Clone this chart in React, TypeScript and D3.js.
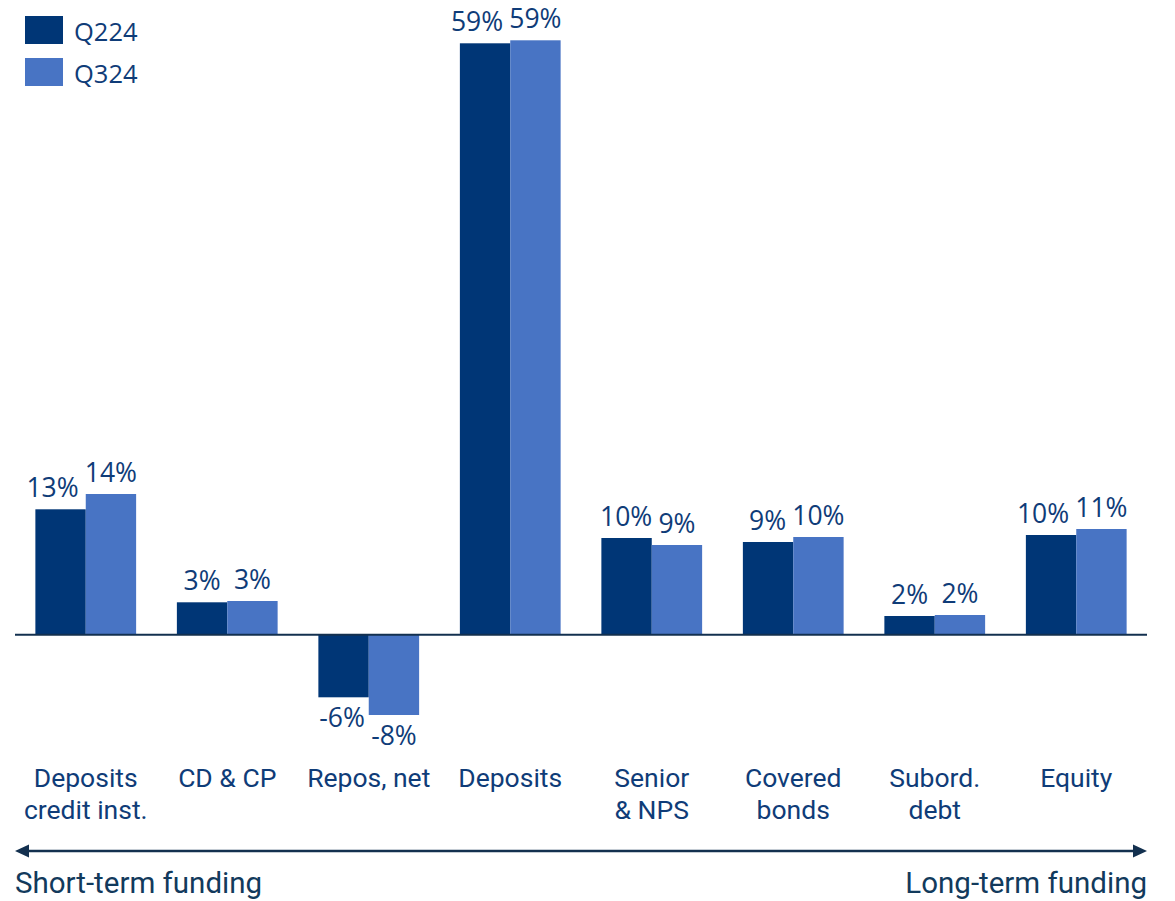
import React from "react";
import * as d3 from "d3";

const categories: string[][] = [
  ["Deposits", "credit inst."],
  ["CD & CP"],
  ["Repos, net"],
  ["Deposits"],
  ["Senior", "& NPS"],
  ["Covered", "bonds"],
  ["Subord.", "debt"],
  ["Equity"],
];
const seriesNames = ["Q224", "Q324"];
const q224 = [12.55, 3.25, -6.25, 59.15, 9.68, 9.28, 1.88, 9.98];
const q324 = [14.08, 3.38, -8.02, 59.45, 8.98, 9.78, 1.98, 10.58];
const colors = ["#003676", "#4874c4"];
const axisLabels = ["Short-term funding", "Long-term funding"];

const W = 1175;
const H = 901;
const textColor = "#0f3c78";
const darkLine = "#13304f";
const valueFont = "'Open Sans', sans-serif";
const catFont = "Roboto, sans-serif";
const valueSize = 26.5;

const fmt = (v: number) => `${Math.round(v) < 0 ? "-" : ""}${Math.abs(Math.round(v))}%`;
const estWidth = (s: string) =>
  s.split("").reduce((acc, c) => acc + (c === "%" ? 0.834 : c === "-" ? 0.322 : 0.572), 0) * valueSize;

export default function App() {
  const idx = categories.map((_, i) => String(i));
  const x0 = d3.scaleBand<string>().domain(idx).range([15, 1147]).paddingInner(0.288).paddingOuter(0.144);
  const x1 = d3.scaleBand<string>().domain(seriesNames).range([0, x0.bandwidth()]);
  const y = d3.scaleLinear().domain([-10, 60]).range([734.8, 34.8]);
  const series = [q224, q324];

  return (
    <svg width={W} height={H} style={{ position: "absolute", left: 0, top: 0, background: "#fff" }}>
      {/* legend */}
      {seriesNames.map((s, i) => (
        <g key={s}>
          <rect x={25} y={16 + i * 42} width={38} height={28} fill={colors[i]} />
          <text x={74} y={40.7 + i * 42} fontFamily={valueFont} fontSize={25.5} fill={textColor}>
            {s}
          </text>
        </g>
      ))}
      {/* bars */}
      {categories.map((_, ci) => {
        const bw = x1.bandwidth();
        const labels = series.map((vals, si) => {
          const v = vals[ci];
          const txt = fmt(v);
          return { v, txt, cx: x1(seriesNames[si])! + bw / 2, w: estWidth(txt) };
        });
        // avoid overlap of the two labels when both sit on the same side
        const [a, b] = labels;
        if ((a.v >= 0) === (b.v >= 0)) {
          const overlap = a.cx + a.w / 2 + 6 - (b.cx - b.w / 2);
          if (overlap > 0) a.cx -= overlap;
        }
        return (
          <g key={ci} transform={`translate(${x0(String(ci))},0)`}>
            {series.map((vals, si) => {
              const v = vals[ci];
              const bx = x1(seriesNames[si])!;
              const top = Math.min(y(v), y(0));
              const h = Math.abs(y(v) - y(0));
              const ly = v >= 0 ? y(v) - 12 : y(v) + 30;
              return (
                <g key={si}>
                  <rect x={bx} y={top} width={bw} height={h} fill={colors[si]} />
                  <text
                    x={labels[si].cx}
                    y={ly}
                    textAnchor="middle"
                    fontFamily={valueFont}
                    fontSize={valueSize}
                    fill={textColor}
                  >
                    {labels[si].txt}
                  </text>
                </g>
              );
            })}
          </g>
        );
      })}
      {/* zero line */}
      <line x1={15} x2={1147} y1={y(0)} y2={y(0)} stroke={darkLine} strokeWidth={2} />
      {/* category labels */}
      {categories.map((lines, ci) => (
        <text
          key={ci}
          x={x0(String(ci))! + x0.bandwidth() / 2}
          y={787}
          textAnchor="middle"
          fontFamily={catFont}
          fontSize={26.5}
          fill={textColor}
        >
          {lines.map((l, li) => (
            <tspan key={li} x={x0(String(ci))! + x0.bandwidth() / 2} dy={li === 0 ? 0 : 32}>
              {l}
            </tspan>
          ))}
        </text>
      ))}
      {/* arrow */}
      <line x1={26} x2={1136} y1={851} y2={851} stroke={darkLine} strokeWidth={2.5} />
      <path d="M15,851 L29,844.5 L29,857.5 Z" fill={darkLine} />
      <path d="M1147,851 L1133,844.5 L1133,857.5 Z" fill={darkLine} />
      <text x={15} y={893} fontFamily={catFont} fontSize={29.5} fill="#123a5c">
        {axisLabels[0]}
      </text>
      <text x={1147} y={893} textAnchor="end" fontFamily={catFont} fontSize={29.5} fill="#123a5c">
        {axisLabels[1]}
      </text>
    </svg>
  );
}
